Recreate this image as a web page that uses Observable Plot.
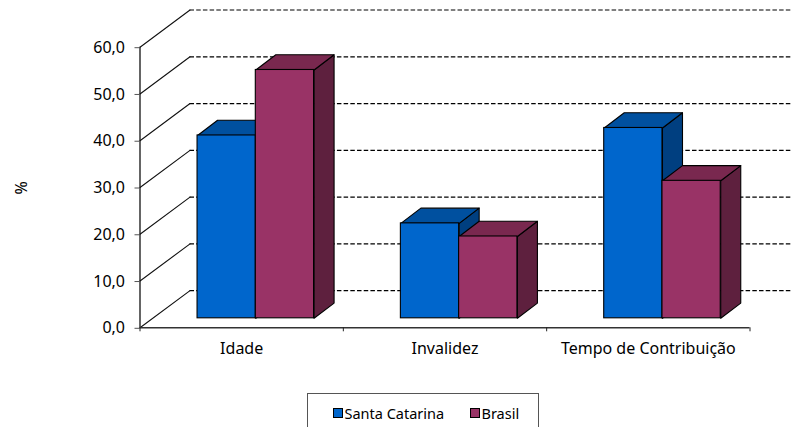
<!DOCTYPE html>
<html>
<head>
<meta charset="utf-8">
<script src="https://cdn.jsdelivr.net/npm/d3@7"></script>
<script src="https://cdn.jsdelivr.net/npm/@observablehq/plot@0.6"></script>
<style>
html,body{margin:0;padding:0;background:#fff;overflow:hidden;width:792px;height:427px}
#wrap{position:relative;width:792px;height:427px;overflow:hidden;font-family:"Noto Sans",sans-serif}
svg{display:block}
#legend{position:absolute;left:307px;top:393px;width:230px;height:50px;border:1px solid #555;background:#fff;font-size:14.5px;color:#000}
#legend span{position:absolute;top:11px;line-height:16px;white-space:nowrap}
#legend i{position:absolute;top:14px;width:8px;height:8px;border:1px solid #000}
</style>
</head>
<body>
<div id="wrap"><div id="chart"></div>
<div id="legend"></div></div>
<script>
const categories = ["Idade", "Invalidez", "Tempo de Contribuição"];
const santaCatarina = [39.1, 20.3, 40.7];
const brasil = [53.1, 17.5, 29.4];
const yTicks = [0, 10, 20, 30, 40, 50, 60];
const seriesNames = ["Santa Catarina", "Brasil"];
const frontColors = ["#0066cc", "#993366"];
const topColors = ["#00509f", "#79284f"];
const sideColors = ["#003f80", "#5e203e"];

// 3D projection, in data units (categories on x, percent on y)
const wallDx = 0.246, wallDy = 7.95;
const barStartX = 0.283, barWidth = 0.2865, barFloorDy = 2.03;
const barDepthX = 0.0985, barDepthY = 3.25;
const xRightEdge = 3.21;

const values = [santaCatarina, brasil];
const marks = [];

// dashed back-wall lines and floor/side diagonals
marks.push(Plot.ruleY(yTicks, {x1: wallDx, x2: xRightEdge, y: d => d + wallDy, stroke: "#000", strokeWidth: 1.2, strokeDasharray: "4.5,2.2"}));
for (const v of yTicks) {
  marks.push(Plot.line([[0, v], [wallDx, v + wallDy]], {stroke: "#111", strokeWidth: 1.1}));
}

// bars
categories.forEach((c, i) => {
  values.forEach((series, s) => {
    const x0 = i + barStartX + s * barWidth, x1 = x0 + barWidth;
    const y0 = barFloorDy, y1 = barFloorDy + series[i];
    const face = (pts, fill) => Plot.line([...pts], {curve: "linear-closed", fill, stroke: "#000", strokeWidth: 1.1, strokeLinejoin: "round"});
    marks.push(face([[x1, y0], [x1 + barDepthX, y0 + barDepthY], [x1 + barDepthX, y1 + barDepthY], [x1, y1]], sideColors[s]));
    marks.push(face([[x0, y1], [x1, y1], [x1 + barDepthX, y1 + barDepthY], [x0 + barDepthX, y1 + barDepthY]], topColors[s]));
    marks.push(Plot.rect([{c, v: series[i]}], {x1: x0, x2: x1, y1: y0, y2: y1, fill: frontColors[s], stroke: "#000", strokeWidth: 1.1}));
  });
});

// axes
marks.push(Plot.ruleX([0], {y1: 0, y2: 60, stroke: "#111", strokeWidth: 1.3}));
marks.push(Plot.ruleY([0], {x1: 0, x2: 3, stroke: "#333", strokeWidth: 1.6}));
marks.push(Plot.axisY({ticks: yTicks, tickSize: 5, tickPadding: 10, dy: 0.5, stroke: "#555", tickFormat: d => d3.format(".1f")(d).replace(".", ","), fontSize: 16, fill: "#000", textAnchor: "end"}));
marks.push(Plot.axisX({ticks: [0, 1, 2, 3], tickSize: 4, label: null, stroke: "#222", tickFormat: () => ""}));
marks.push(Plot.axisX({ticks: [0.5, 1.5, 2.5], tickSize: 0, tickPadding: 15, label: null, tickFormat: d => categories[Math.floor(d)], fontSize: 16, fill: "#000"}));
marks.push(Plot.text(["%"], {frameAnchor: "left", dx: -118, y: [28.5], rotate: -90, fontSize: 16, fill: "#000"}));

const chart = Plot.plot({
  width: 792,
  height: 393,
  marginLeft: 139.5,
  marginRight: 42.5,
  marginTop: 46.7,
  marginBottom: 65.7,
  style: {fontFamily: '"Noto Sans", sans-serif', background: "#fff", overflow: "visible"},
  x: {domain: [0, 3], axis: null},
  y: {domain: [0, 60], axis: null},
  marks
});
document.getElementById("chart").appendChild(chart);

const legend = document.getElementById("legend");
[[24.5, 36.5], [162, 173.5]].forEach(([sx, tx], s) => {
  const sw = document.createElement("i");
  sw.style.left = sx + "px"; sw.style.background = frontColors[s];
  const t = document.createElement("span");
  t.style.left = tx + "px"; t.textContent = seriesNames[s];
  legend.append(sw, t);
});
</script>
</body>
</html>
